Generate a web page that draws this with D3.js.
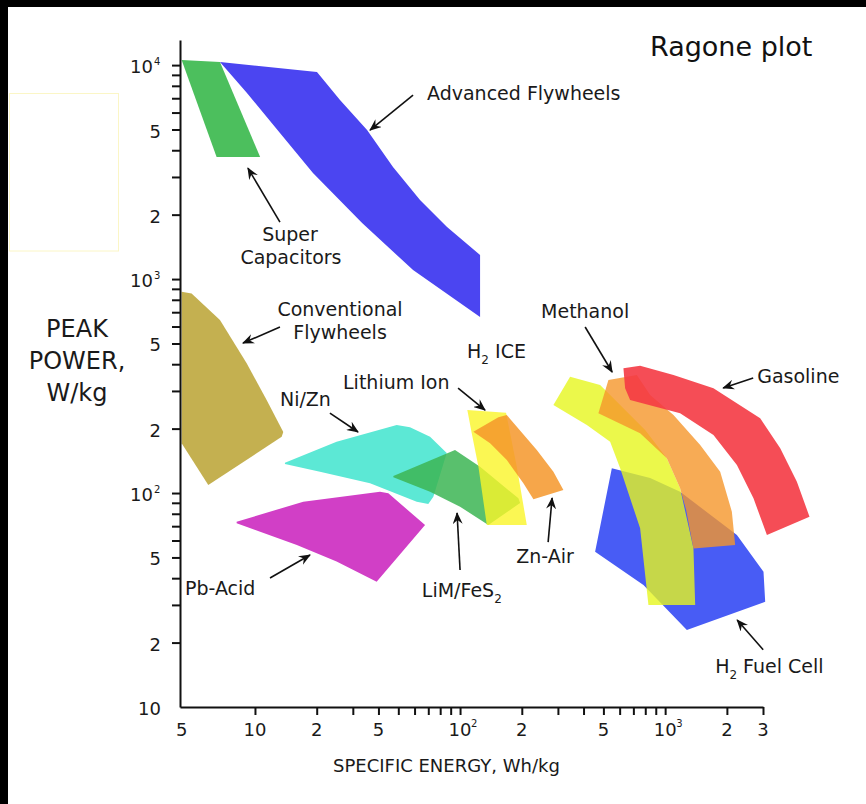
<!DOCTYPE html>
<html>
<head>
<meta charset="utf-8">
<script src="https://cdn.jsdelivr.net/npm/d3@7"></script>
<style>
  body { margin: 0; background: #fff; }
  svg { display: block; font-family: "DejaVu Sans", Verdana, sans-serif; }
</style>
</head>
<body>
<svg id="ragone" width="866" height="804"></svg>
<script>
// specific energy (Wh/kg), peak power (W/kg) outlines
const superCapacitors = [[4.39,10550],[6.75,10340],[10.6,3716],[6.5,3716]];
const advancedFlywheels = [[6.75,10330],[20.06,9275],[25.98,6860],[35.2,4970],[47.1,3337],[63.8,2340],[86.4,1750],[125.2,1295],[125.2,665],[59.0,1102],[33.3,1827],[19.18,3128],[13.24,4811],[9.14,7400]];
const conventionalFlywheels = [[4.39,872],[4.91,857],[6.75,643],[9.11,404],[11.4,272],[13.74,193],[13.5,183],[5.92,109],[4.39,171]];
const pbAcid = [[8.14,73.4],[17.2,91.1],[40.7,101.4],[44.7,99.7],[67.5,70.9],[39.2,38.5],[25.0,47.8],[16.0,57.1],[10.6,65.9],[8.14,72.2]];
const niZn = [[14.0,138.5],[25.0,173.6],[49.1,207.9],[57.0,202.8],[71.4,183.3],[86.1,153.8],[74.1,96.1],[70.0,88.9],[61.5,91.1],[36.4,111],[20.75,125.8],[14.0,136.6]];
const limFeS2 = [[47.3,120.1],[94.5,158.8],[125.2,132.7],[192.5,94.5],[196.2,89.8],[137.4,70.9],[100,86.3],[71.4,101.4],[47.3,118.4]];
const lithiumIon = [[108.5,244.3],[167.6,237.3],[189.1,132.7],[211.5,70.9],[135,70.9],[122.9,132.7],[114,190.1]];
const znAir = [[116.1,193.4],[153.8,225.8],[169,231.5],[236.7,158.8],[285.2,125.8],[319.1,103.3],[227.9,93.5],[203.6,111],[169,142.6],[140.1,170.8]];
const h2FuelCell = [[549.6,130.5],[845,117.5],[1183,101.4],[2238,63.6],[3017,42.9],[3075,31.0],[1276,22.9],[783.8,37.2],[455.5,53.2]];
const h2Ice = [[344,349.6],[481.9,319.7],[603.4,257.8],[798.8,197],[1019,145.3],[1183,105.2],[1374,55.1],[1401,30.0],[828.9,30.0],[755,68.4],[603.4,130.5],[539.2,173.6],[415.1,207.9],[285.2,257.8]];
const methanol = [[528.9,337.3],[727.8,355.9],[845,287.1],[1098,231.5],[1482,167.6],[1855,125.8],[2115,81.8],[2195,57.1],[1374,55.1],[1266,83.3],[1183,105.2],[1019,145.3],[755,190.1],[472.6,235.8]];
const gasoline = [[626,382.5],[755,393.4],[1098,355.9],[1720,308.6],[2907,223.4],[3640,161.8],[4389,112.9],[5057,77.5],[3135,63.6],[2696,94.5],[2238,135.1],[1720,186.6],[1183,235.8],[675,272],[638,308.6]];

// axis ticks and labels
const xTickVals = [10,20,30,40,50,60,70,80,90,100,200,300,400,500,600,700,800,900,1000,2000,3000];
const xLabelVals = [4.4,10,20,40,100,200,500,1000,2000,3000];
const xLabelText = ["5","10","2","5","10","2","5","10","2","3"];
const xLabelSup = ["","","","","2","","","3","",""];
const yTickVals = [20,30,40,50,60,70,80,90,100,200,300,400,500,600,700,800,900,1000,2000,3000,4000,5000,6000,7000,8000,9000,10000];
const yLabelVals = [10,20,50,100,200,500,1000,2000,5000,10000];
const yLabelText = ["10","2","5","10","2","5","10","2","5","10"];
const yLabelSup = ["","","","2","","","3","","","4"];

// annotations placed at (energy, power)
const labels = [
  {t: "Advanced Flywheels", e: 69.0, p: 6860, a: "start"},
  {t: "Super", e: 14.82, p: 1505, a: "middle"},
  {t: "Capacitors", e: 14.98, p: 1175, a: "middle"},
  {t: "Conventional", e: 25.98, p: 672, a: "middle"},
  {t: "Flywheels", e: 25.98, p: 525, a: "middle"},
  {t: "Ni/Zn", e: 13.24, p: 255, a: "start"},
  {t: "Lithium Ion", e: 26.88, p: 306, a: "start"},
  {t: "H", sub: "2", rest: " ICE", e: 108.2, p: 427, a: "start"},
  {t: "Methanol", e: 407.3, p: 657, a: "middle"},
  {t: "Gasoline", e: 2811, p: 327, a: "start"},
  {t: "Zn-Air", e: 259.8, p: 47.1, a: "middle"},
  {t: "LiM/FeS", sub: "2", rest: "", e: 102, p: 32.8, a: "middle"},
  {t: "Pb-Acid", e: 4.555, p: 33.4, a: "start"},
  {t: "H", sub: "2", rest: " Fuel Cell", e: 1753, p: 14.4, a: "start"}
];
const arrows = [
  [[59.0,7240],[36.4,4970]],
  [[13.24,1846],[9.24,3301]],
  [[13.24,597],[8.74,502]],
  [[23.2,236.5],[31.8,192.8]],
  [[97.8,309.6],[132.4,244.3]],
  [[407.3,597],[551.5,367.7]],
  [[2687,344.6],[1918,309.6]],
  [[268.8,59.0],[281.0,94.8]],
  [[100,43.7],[96.7,80.6]],
  [[11.84,40.1],[18.55,51.3]],
  [[3006,18.5],[2245,25.5]]
];

const series = [
  {pts: superCapacitors, color: "#4cbf5d", op: 1},
  {pts: advancedFlywheels, color: "#4b45f1", op: 1},
  {pts: conventionalFlywheels, color: "#c4b050", op: 1},
  {pts: pbAcid, color: "#d13fc6", op: 1},
  {pts: niZn, color: "#5ce8d5", op: 1},
  {pts: limFeS2, color: "#3cb554", op: 0.85},
  {pts: lithiumIon, color: "#faf528", op: 0.8},
  {pts: znAir, color: "#f5962a", op: 0.85},
  {pts: h2FuelCell, color: "#485cf5", op: 1},
  {pts: h2Ice, color: "#e6f61e", op: 0.8},
  {pts: methanol, color: "#f5962a", op: 0.8},
  {pts: gasoline, color: "#f43a44", op: 0.9}
];

const svg = d3.select("#ragone");
const width = 866, height = 804;

// frame: white page with black edges and the faint yellow box at left
svg.append("rect").attr("width", width).attr("height", height).attr("fill", "#fff");
svg.append("rect").attr("width", width).attr("height", 7).attr("fill", "#000");
svg.append("rect").attr("width", 8).attr("height", height).attr("fill", "#000");
svg.append("rect").attr("x", 9.5).attr("y", 93.5).attr("width", 109).attr("height", 157.5)
  .attr("fill", "none").attr("stroke", "#fbf6c6").attr("stroke-width", 1);

var x = d3.scaleLog().domain([4.31, 3000]).range([180, 763]);
var y = d3.scaleLog().domain([10, 13100]).range([707, 40]);

var line = d3.line()
  .x(d => x(d[0]))
  .y(d => y(d[1]))
  .curve(d3.curveLinearClosed);

svg.append("g")
  .selectAll("path")
  .data(series)
  .join("path")
  .attr("d", d => line(d.pts))
  .attr("fill", d => d.color)
  .attr("fill-opacity", d => d.op)
  .attr("stroke", "none");

// axes
var gx = svg.append("g")
  .attr("transform", "translate(0,707)")
  .call(d3.axisBottom(x).tickValues(xTickVals).tickSize(8).tickSizeOuter(0).tickFormat(""));
var gy = svg.append("g")
  .attr("transform", "translate(180,0)")
  .call(d3.axisLeft(y).tickValues(yTickVals).tickSize(8).tickSizeOuter(0).tickFormat(""));
[gx, gy].forEach(g => {
  g.select(".domain").attr("stroke", "#111").attr("stroke-width", 2);
  g.selectAll(".tick line").attr("stroke", "#111").attr("stroke-width", 2);
});

var tickFill = "#1a1a1a";
xLabelVals.forEach((v, i) => {
  svg.append("text")
    .attr("x", x(v)).attr("y", 736)
    .attr("text-anchor", "middle")
    .attr("font-size", 18).attr("fill", tickFill)
    .text(xLabelText[i]);
  if (xLabelSup[i]) {
    svg.append("text")
      .attr("x", x(v) + 11).attr("y", 727)
      .attr("font-size", 10).attr("fill", tickFill)
      .text(xLabelSup[i]);
  }
});
yLabelVals.forEach((v, i) => {
  var sup = yLabelSup[i];
  svg.append("text")
    .attr("x", sup ? 153 : 161).attr("y", y(v) + 8)
    .attr("text-anchor", "end")
    .attr("font-size", 18).attr("fill", tickFill)
    .text(yLabelText[i]);
  if (sup) {
    svg.append("text")
      .attr("x", 154).attr("y", y(v) - 0.5)
      .attr("font-size", 10).attr("fill", tickFill)
      .text(sup);
  }
});

// axis titles
svg.append("text")
  .attr("x", 333).attr("y", 772)
  .attr("font-size", 18).attr("fill", tickFill)
  .text("SPECIFIC ENERGY, Wh/kg");

var yTitle = svg.append("text")
  .attr("text-anchor", "middle")
  .attr("font-size", 24).attr("fill", tickFill);
["PEAK", "POWER,", "W/kg"].forEach((s, i) => {
  yTitle.append("tspan").attr("x", 77).attr("y", 337 + i * 32).text(s);
});

svg.append("text")
  .attr("x", 650).attr("y", 56)
  .attr("font-size", 27).attr("fill", "#111")
  .text("Ragone plot");

// annotations
svg.append("defs").append("marker")
  .attr("id", "head")
  .attr("viewBox", "0 0 12 10")
  .attr("refX", 11).attr("refY", 5)
  .attr("markerWidth", 12).attr("markerHeight", 10)
  .attr("markerUnits", "userSpaceOnUse")
  .attr("orient", "auto")
  .append("path")
  .attr("d", "M0,0 L12,5 L0,10 L4,5 Z")
  .attr("fill", "#111");

svg.append("g")
  .selectAll("line")
  .data(arrows)
  .join("line")
  .attr("x1", d => x(d[0][0])).attr("y1", d => y(d[0][1]))
  .attr("x2", d => x(d[1][0])).attr("y2", d => y(d[1][1]))
  .attr("stroke", "#111").attr("stroke-width", 1.6)
  .attr("marker-end", "url(#head)");

labels.forEach(l => {
  var t = svg.append("text")
    .attr("x", x(l.e)).attr("y", y(l.p))
    .attr("text-anchor", l.a)
    .attr("font-size", 19).attr("fill", "#1a1a1a");
  t.append("tspan").text(l.t);
  if (l.sub) {
    t.append("tspan").attr("dy", 6).attr("font-size", 12).text(l.sub);
    if (l.rest) t.append("tspan").attr("dy", -6).text(l.rest);
  }
});
</script>
</body>
</html>
